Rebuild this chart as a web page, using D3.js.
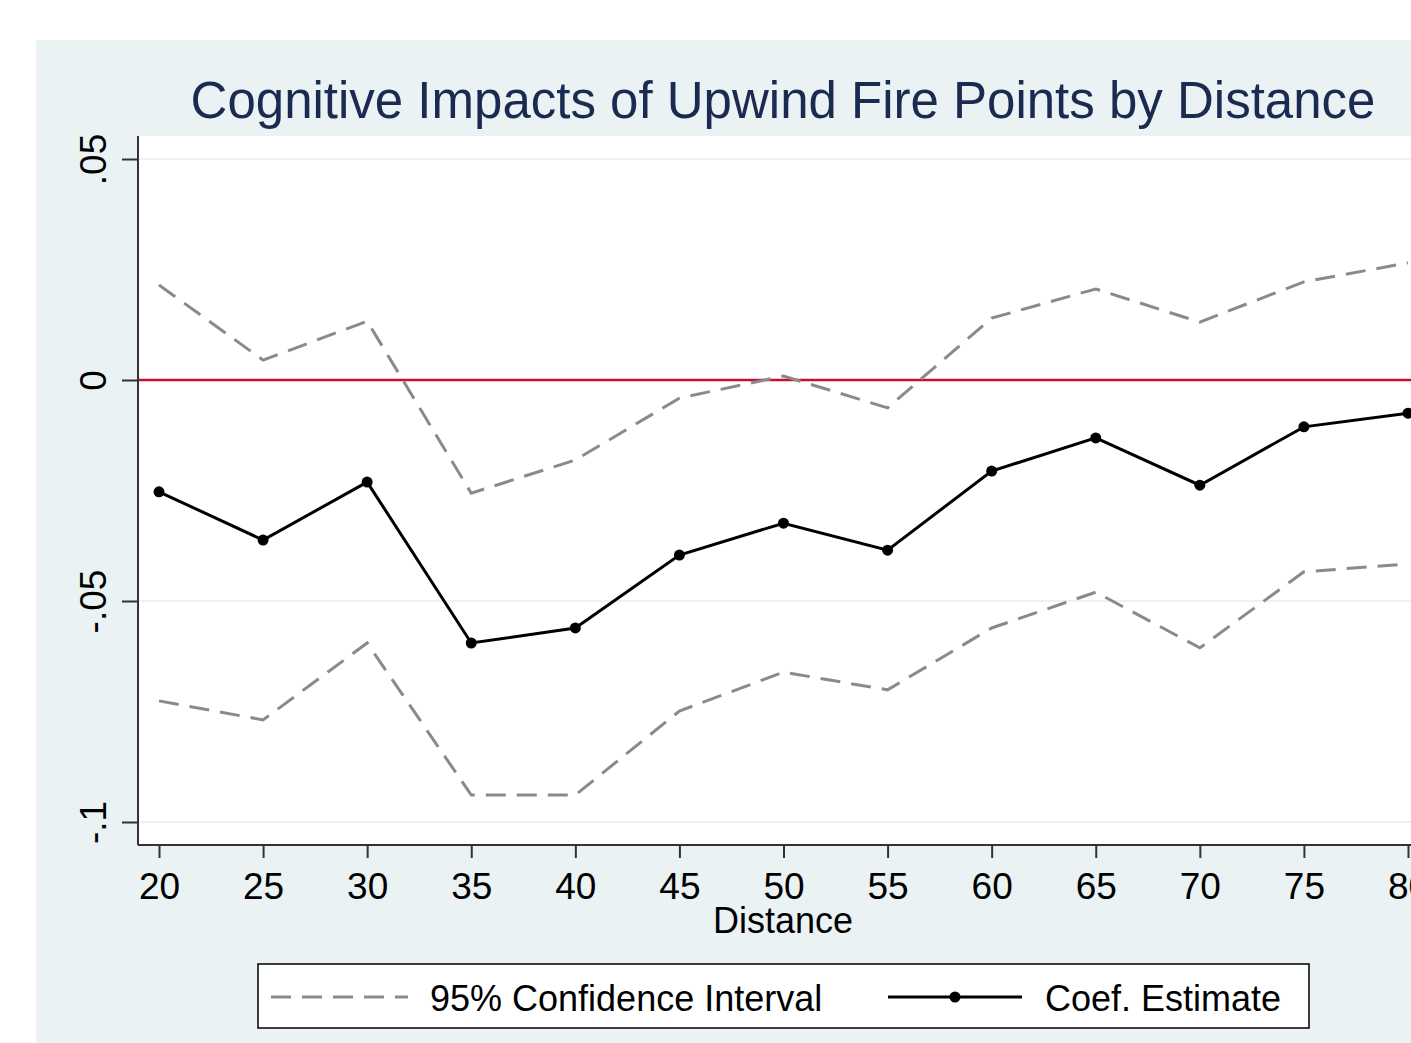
<!DOCTYPE html>
<html>
<head>
<meta charset="utf-8">
<script src="https://cdn.jsdelivr.net/npm/d3@7"></script>
<style>
  body { margin: 0; background: #fff; overflow: hidden; }
  text { font-family: "Liberation Sans", Arial, sans-serif; }
</style>
</head>
<body>
<script>
// values
var distance = [20, 25, 30, 35, 40, 45, 50, 55, 60, 65, 70, 75, 80];
var coef  = [-0.0253, -0.0362, -0.0231, -0.0595, -0.0561, -0.0396, -0.0324, -0.0385, -0.0206, -0.0131, -0.0238, -0.0106, -0.0075];
var upper = [0.0215, 0.0045, 0.0133, -0.0256, -0.0181, -0.0041, 0.0009, -0.0063, 0.0140, 0.0206, 0.0131, 0.0222, 0.0265];
var lower = [-0.0726, -0.0769, -0.0595, -0.0939, -0.0939, -0.0749, -0.0661, -0.0701, -0.0561, -0.0480, -0.0606, -0.0434, -0.0416];
var yTicks = [0.05, 0, -0.05, -0.1];
var yTickLabels = [".05", "0", "-.05", "-.1"];

var W = 1411, H = 1043;
var svg = d3.select("body").append("svg")
    .attr("width", W)
    .attr("height", H);

// outer stata background
svg.append("rect")
    .attr("x", 36).attr("y", 40)
    .attr("width", W).attr("height", H)
    .attr("fill", "#eaf2f3");

var plotL = 138, plotT = 136, plotB = 845, plotR = 1440;

var x = d3.scaleLinear().domain([20, 80]).range([159, 1408]);
var y = d3.scaleLinear().domain([0.05, -0.1]).range([159, 822]);

svg.append("rect")
    .attr("x", plotL).attr("y", plotT)
    .attr("width", plotR - plotL).attr("height", plotB - plotT)
    .attr("fill", "#fff");

// grid
svg.selectAll("line.grid")
    .data(yTicks)
    .enter()
    .append("line")
    .attr("class", "grid")
    .attr("x1", plotL).attr("x2", plotR)
    .attr("y1", function(d){ return y(d) })
    .attr("y2", function(d){ return y(d) })
    .attr("stroke", "#eaf2f3")
    .attr("stroke-width", 2);

// zero line
svg.append("line")
    .attr("x1", plotL).attr("x2", plotR)
    .attr("y1", y(0)).attr("y2", y(0))
    .attr("stroke", "#c8102e")
    .attr("stroke-width", 2.5);

// axes
var yAxis = d3.axisLeft(y)
    .tickValues(yTicks)
    .tickSize(16)
    .tickFormat(function(d, i){ return yTickLabels[i] });

var gy = svg.append("g")
    .attr("transform", "translate(" + plotL + ",0)")
    .call(yAxis);
gy.select(".domain").attr("d", "M0," + plotT + "V" + plotB);
gy.selectAll("line, path").attr("stroke", "#333").attr("stroke-width", 2);
gy.selectAll("text")
    .attr("font-size", 37)
    .attr("fill", "#000")
    .attr("x", 0).attr("y", 0).attr("dy", 0)
    .attr("text-anchor", "middle")
    .attr("transform", "translate(-32,0) rotate(-90)");

var xAxis = d3.axisBottom(x)
    .tickValues(distance)
    .tickSize(13)
    .tickPadding(15)
    .tickFormat(d3.format("d"));

var gx = svg.append("g")
    .attr("transform", "translate(0," + plotB + ")")
    .call(xAxis);
gx.select(".domain").attr("d", "M" + plotL + ",0H" + plotR);
gx.selectAll("line, path").attr("stroke", "#333").attr("stroke-width", 2);
gx.selectAll("text")
    .attr("font-size", 37)
    .attr("fill", "#000");

// lines
var line = d3.line()
    .x(function(d){ return x(d[0]) })
    .y(function(d){ return y(d[1]) });

[upper, lower].forEach(function(s){
    svg.append("path")
        .datum(d3.zip(distance, s))
        .attr("d", line)
        .attr("fill", "none")
        .attr("stroke", "#8a8a8a")
        .attr("stroke-width", 3)
        .attr("stroke-dasharray", "20,11");
});

svg.append("path")
    .datum(d3.zip(distance, coef))
    .attr("d", line)
    .attr("fill", "none")
    .attr("stroke", "#000")
    .attr("stroke-width", 3);

svg.selectAll("circle.pt")
    .data(d3.zip(distance, coef))
    .enter()
    .append("circle")
    .attr("class", "pt")
    .attr("cx", function(d){ return x(d[0]) })
    .attr("cy", function(d){ return y(d[1]) })
    .attr("r", 5.5)
    .attr("fill", "#000");

// title + axis label
svg.append("text")
    .attr("x", 783).attr("y", 118)
    .attr("text-anchor", "middle")
    .attr("font-size", 51)
    .attr("fill", "#1a2a50")
    .text("Cognitive Impacts of Upwind Fire Points by Distance");

svg.append("text")
    .attr("x", 783).attr("y", 933)
    .attr("text-anchor", "middle")
    .attr("font-size", 36)
    .attr("fill", "#000")
    .text("Distance");

// legend
var lg = svg.append("g");
lg.append("rect")
    .attr("x", 258).attr("y", 964)
    .attr("width", 1051).attr("height", 64)
    .attr("fill", "#fff")
    .attr("stroke", "#000")
    .attr("stroke-width", 1.5);
lg.append("line")
    .attr("x1", 271).attr("x2", 408)
    .attr("y1", 997).attr("y2", 997)
    .attr("stroke", "#8a8a8a")
    .attr("stroke-width", 3)
    .attr("stroke-dasharray", "20,11");
lg.append("text")
    .attr("x", 430).attr("y", 1011)
    .attr("font-size", 36)
    .text("95% Confidence Interval");
lg.append("line")
    .attr("x1", 888).attr("x2", 1022)
    .attr("y1", 997).attr("y2", 997)
    .attr("stroke", "#000")
    .attr("stroke-width", 3);
lg.append("circle")
    .attr("cx", 955).attr("cy", 997)
    .attr("r", 5.5)
    .attr("fill", "#000");
lg.append("text")
    .attr("x", 1045).attr("y", 1011)
    .attr("font-size", 36)
    .text("Coef. Estimate");
</script>
</body>
</html>
